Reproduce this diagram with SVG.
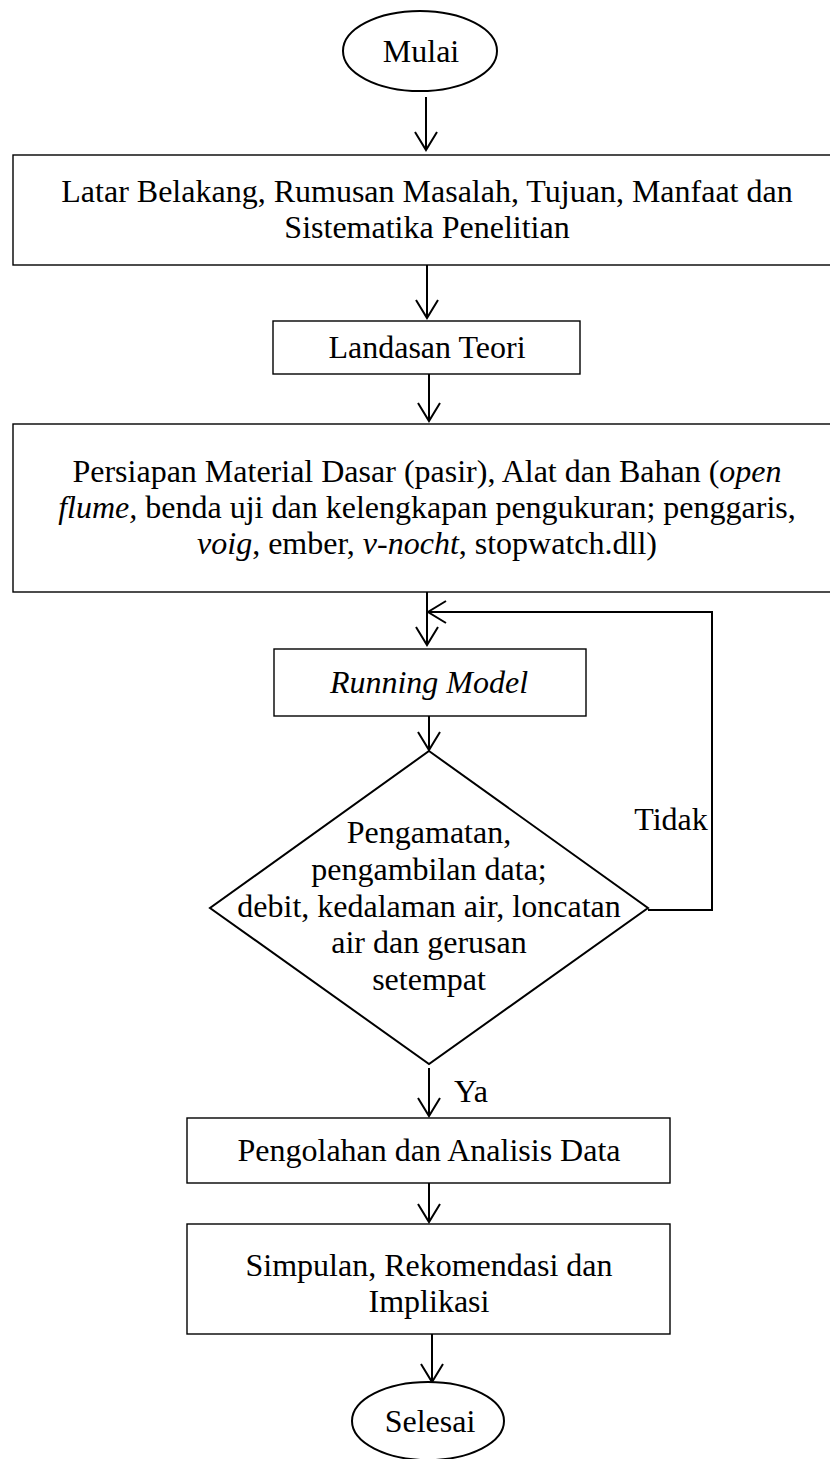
<svg xmlns="http://www.w3.org/2000/svg" width="830" height="1459" viewBox="0 0 830 1459">
<style>
.box{fill:#fff;stroke:#000;stroke-width:1.4}
.shape{fill:#fff;stroke:#000;stroke-width:2}
.t{font-family:"Liberation Serif","Times New Roman",serif;font-size:32px;fill:#000;text-anchor:middle}
.i{font-style:italic}
.c{fill:none;stroke:#000;stroke-width:2}
</style>
<defs>
<marker id="ah" viewBox="-20 -13 22 26" refX="0" refY="0" markerWidth="22" markerHeight="26" markerUnits="userSpaceOnUse" orient="auto">
<path d="M -18 -11 L 0 0 L -18 11" fill="none" stroke="#000" stroke-width="2"/>
</marker>
</defs>
<rect width="830" height="1459" fill="#fff"/>
<g id="connectors">
<line class="c" x1="426" y1="97" x2="426" y2="150" marker-end="url(#ah)"/>
<line class="c" x1="427" y1="265" x2="427" y2="318" marker-end="url(#ah)"/>
<line class="c" x1="429" y1="374" x2="429" y2="421" marker-end="url(#ah)"/>
<line class="c" x1="427" y1="592" x2="427" y2="645" marker-end="url(#ah)"/>
<polyline class="c" points="648,910 712,910 712,612 428,612" marker-end="url(#ah)"/>
<line class="c" x1="429" y1="716" x2="429" y2="750" marker-end="url(#ah)"/>
<line class="c" x1="429" y1="1068" x2="429" y2="1116" marker-end="url(#ah)"/>
<line class="c" x1="429" y1="1183" x2="429" y2="1222" marker-end="url(#ah)"/>
<line class="c" x1="432" y1="1334" x2="432" y2="1382" marker-end="url(#ah)"/>
<text class="t" x="471" y="1102">Ya</text>
<text class="t" x="671" y="830">Tidak</text>
</g>
<g id="mulai">
<ellipse class="shape" cx="420" cy="51" rx="77" ry="40"/>
<text class="t" x="421" y="62">Mulai</text>
</g>
<g id="latar">
<rect class="box" x="13" y="155" width="830" height="110"/>
<text class="t" x="427" y="202">Latar Belakang, Rumusan Masalah, Tujuan, Manfaat dan</text>
<text class="t" x="427" y="238">Sistematika Penelitian</text>
</g>
<g id="landasan">
<rect class="box" x="273" y="321" width="307" height="53"/>
<text class="t" x="427" y="358">Landasan Teori</text>
</g>
<g id="persiapan">
<rect class="box" x="13" y="424" width="830" height="168"/>
<text class="t" x="427" y="482">Persiapan Material Dasar (pasir), Alat dan Bahan (<tspan class="i">open</tspan></text>
<text class="t" x="427" y="518"><tspan class="i">flume,</tspan> benda uji dan kelengkapan pengukuran; penggaris,</text>
<text class="t" x="427" y="554"><tspan class="i">voig</tspan>, ember, <tspan class="i">v-nocht</tspan>, stopwatch.dll)</text>
</g>
<g id="running">
<rect class="box" x="274" y="649" width="312" height="67"/>
<text class="t i" x="429" y="693">Running Model</text>
</g>
<g id="pengamatan">
<polygon class="shape" points="429,751 648,908 429,1064 210,908"/>
<text class="t" x="429" y="843">Pengamatan,</text>
<text class="t" x="429" y="880">pengambilan data;</text>
<text class="t" x="429" y="917">debit, kedalaman air, loncatan</text>
<text class="t" x="429" y="953">air dan gerusan</text>
<text class="t" x="429" y="990">setempat</text>
</g>
<g id="pengolahan">
<rect class="box" x="187" y="1118" width="483" height="65"/>
<text class="t" x="429" y="1161">Pengolahan dan Analisis Data</text>
</g>
<g id="simpulan">
<rect class="box" x="187" y="1224" width="483" height="110"/>
<text class="t" x="429" y="1276">Simpulan, Rekomendasi dan</text>
<text class="t" x="429" y="1312">Implikasi</text>
</g>
<g id="selesai">
<ellipse class="shape" cx="428" cy="1421" rx="76" ry="39"/>
<text class="t" x="430" y="1432">Selesai</text>
</g>
</svg>
